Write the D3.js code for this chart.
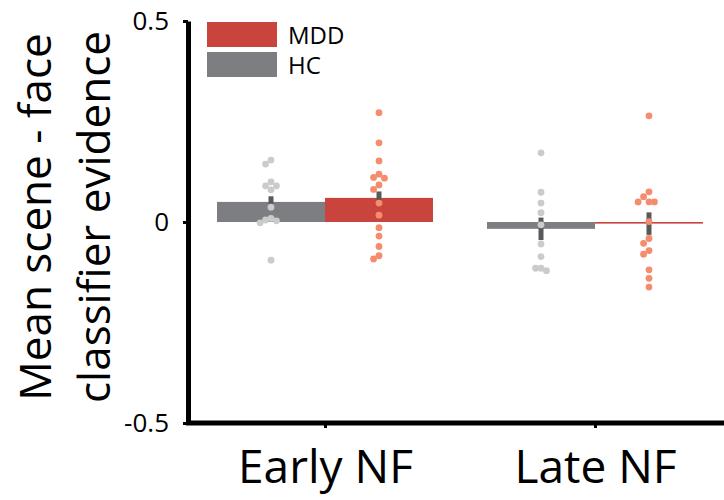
<!DOCTYPE html>
<html>
<head>
<meta charset="utf-8">
<script src="https://cdn.jsdelivr.net/npm/d3@7"></script>
<style>
  body { margin: 0; background: #fff; }
  svg text { font-family: "Open Sans", "Noto Sans", sans-serif; fill: #000; }
</style>
</head>
<body>
<div id="chart"></div>
<script>
// groups on the x axis and the two subject groups
var phases = ["Early NF", "Late NF"];
var groups = ["HC", "MDD"];

// mean evidence per phase (bars) and SEM (error bars)
var hcMeans = [0.05, -0.017];
var mddMeans = [0.06, -0.004];
var hcSem = [0.014, 0.028];
var mddSem = [0.016, 0.028];

// individual subjects
var hcEarly = [0.154, 0.144, 0.100, 0.090, 0.090, 0.080, 0.037, 0.009, 0.005, 0.003, -0.002, -0.095];
var mddEarly = [0.272, 0.197, 0.152, 0.119, 0.111, 0.109, 0.092, 0.081, 0.047, 0.017, -0.014, -0.035, -0.061, -0.084, -0.092];
var hcLate = [0.172, 0.074, 0.047, 0.023, -0.007, -0.055, -0.086, -0.115, -0.115, -0.121];
var mddLate = [0.264, 0.075, 0.063, 0.050, 0.050, 0.050, 0.001, -0.041, -0.053, -0.071, -0.080, -0.119, -0.140, -0.162];

var yTicks = [0.5, 0, -0.5];

var width = 724, height = 500;
var colors = {HC: "#7d7e82", MDD: "#c8443d"};
var dotColors = {HC: "#cbcbcb", MDD: "#f58c6e"};

var svg = d3.select("#chart").append("svg")
    .attr("width", width)
    .attr("height", height);

var y = d3.scaleLinear()
    .domain([-0.5, 0.5])
    .range([423, 21]);

var x = d3.scalePoint()
    .domain(phases)
    .range([325, 595]);

var xSub = d3.scaleBand()
    .domain(groups)
    .range([-108, 108]);

var rows = [];
phases.forEach(function(p, i) {
  rows.push({phase: p, group: "HC", mean: hcMeans[i], sem: hcSem[i], pts: i == 0 ? hcEarly : hcLate});
  rows.push({phase: p, group: "MDD", mean: mddMeans[i], sem: mddSem[i], pts: i == 0 ? mddEarly : mddLate});
});

// bars
svg.append("g").selectAll("rect")
  .data(rows)
  .enter().append("rect")
    .attr("x", function(d) { return x(d.phase) + xSub(d.group); })
    .attr("width", xSub.bandwidth())
    .attr("y", function(d) { return y(Math.max(0, d.mean)); })
    .attr("height", function(d) { return Math.abs(y(d.mean) - y(0)); })
    .attr("fill", function(d) { return colors[d.group]; });

// error bars
svg.append("g").selectAll("line")
  .data(rows)
  .enter().append("line")
    .attr("x1", function(d) { return x(d.phase) + xSub(d.group) + xSub.bandwidth() / 2; })
    .attr("x2", function(d) { return x(d.phase) + xSub(d.group) + xSub.bandwidth() / 2; })
    .attr("y1", function(d) { return y(d.mean + d.sem); })
    .attr("y2", function(d) { return y(d.mean - d.sem); })
    .attr("stroke", "#58595b")
    .attr("stroke-width", 5);

// simple beeswarm so overlapping subjects sit side by side
var r = 3.4;
function swarm(vals, cx) {
  var placed = [];
  return vals.map(function(v) {
    var cy = y(v), offs = [0, -1, 1, -2, 2], px = cx;
    for (var k = 0; k < offs.length; k++) {
      var tx = cx + offs[k] * r * 1.6;
      var hit = placed.some(function(p) { return Math.hypot(p[0] - tx, p[1] - cy) < r * 1.6; });
      if (!hit) { px = tx; break; }
    }
    placed.push([px, cy]);
    return {x: px, y: cy};
  });
}

rows.forEach(function(d) {
  var cx = x(d.phase) + xSub(d.group) + xSub.bandwidth() / 2;
  svg.append("g").selectAll("circle")
    .data(swarm(d.pts, cx))
    .enter().append("circle")
      .attr("cx", function(p) { return p.x; })
      .attr("cy", function(p) { return p.y; })
      .attr("r", r)
      .attr("fill", dotColors[d.group]);
});

// y axis
var yAxis = svg.append("g")
    .attr("transform", "translate(188,0)")
    .call(d3.axisLeft(y).tickValues(yTicks).tickSize(5).tickSizeOuter(0).tickPadding(14)
      .tickFormat(function(d) { return d == 0 ? "0" : d; }));
yAxis.select(".domain").attr("stroke", "#000").attr("stroke-width", 5);
yAxis.selectAll(".tick line").attr("stroke", "#000").attr("stroke-width", 3);
yAxis.selectAll("text").style("font-size", "26px").attr("fill", "#000");

// x axis
var xAxis = svg.append("g")
    .attr("transform", "translate(0,423)")
    .call(d3.axisBottom(x).tickSize(5).tickSizeOuter(0).tickPadding(22));
xAxis.select(".domain").attr("d", "M186,0H724").attr("stroke", "#000").attr("stroke-width", 5);
xAxis.selectAll(".tick line").attr("stroke", "#000").attr("stroke-width", 3);
xAxis.selectAll("text").style("font-size", "46px").attr("fill", "#000");

// y label
var ylab = svg.append("text")
    .attr("transform", "translate(51,217) rotate(-90)")
    .attr("text-anchor", "middle")
    .style("font-size", "44px");
ylab.append("tspan").attr("x", 0).attr("y", 0).text("Mean scene - face");
ylab.append("tspan").attr("x", 0).attr("y", 59).text("classifier evidence");

// legend
var legend = svg.append("g").attr("transform", "translate(207,22)");
["MDD", "HC"].forEach(function(g, i) {
  legend.append("rect")
    .attr("x", 0).attr("y", i * 30)
    .attr("width", 70).attr("height", 25)
    .attr("fill", colors[g]);
  legend.append("text")
    .attr("x", 81).attr("y", i * 30 + 22)
    .style("font-size", "24px")
    .text(g);
});
</script>
</body>
</html>
